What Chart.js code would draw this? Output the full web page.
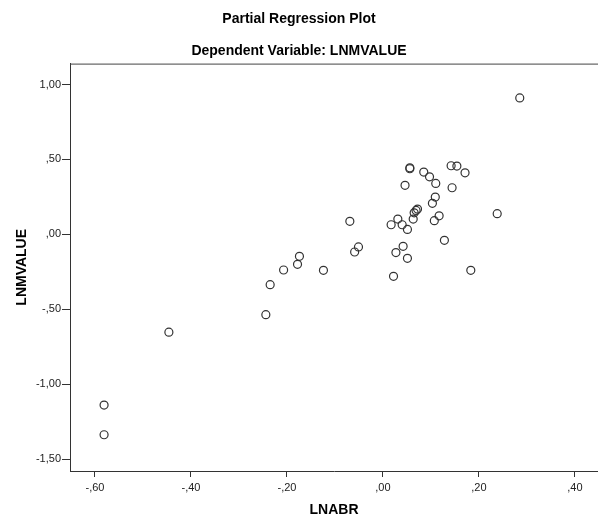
<!DOCTYPE html>
<html>
<head>
<meta charset="utf-8">
<script src="https://cdn.jsdelivr.net/npm/chart.js@4.4.1/dist/chart.umd.min.js"></script>
<style>
  html, body { margin: 0; padding: 0; background: #fff; }
  #wrap { width: 598px; height: 521px; }
</style>
</head>
<body>
<div id="wrap"><canvas id="grafico"></canvas></div>
<script>
// values
const lnabr = [
  0.285, 0.056, 0.056, 0.085, 0.097, 0.110, 0.142, 0.154, 0.171, 0.046,
  0.144, 0.109, 0.103, 0.072, 0.069, 0.065, 0.063, 0.117, 0.107, -0.069,
  0.031, 0.017, 0.040, 0.051, 0.238, 0.128, -0.051, -0.059, 0.042, 0.027,
  0.051, 0.183, 0.022, -0.174, -0.178, -0.207, -0.124, -0.235, -0.244, -0.446,
  -0.581, -0.581
];
const lnmvalue = [
  0.911, 0.444, 0.438, 0.416, 0.384, 0.340, 0.458, 0.456, 0.411, 0.327,
  0.311, 0.249, 0.207, 0.169, 0.160, 0.144, 0.102, 0.124, 0.091, 0.087,
  0.102, 0.064, 0.064, 0.033, 0.138, -0.040, -0.084, -0.118, -0.080, -0.122,
  -0.160, -0.240, -0.280, -0.147, -0.200, -0.238, -0.240, -0.336, -0.536, -0.653,
  -1.140, -1.338
];

const xTickValues = [-0.6, -0.4, -0.2, 0, 0.2, 0.4];
const xTickLabels = ["-,60", "-,40", "-,20", ",00", ",20", ",40"];
const yTickValues = [-1.5, -1, -0.5, 0, 0.5, 1];
const yTickLabels = ["-1,50", "-1,00", "-,50", ",00", ",50", "1,00"];

const puntos = lnabr.map((x, i) => ({ x: x, y: lnmvalue[i] }));

const fuente = "'Liberation Sans', Arial, sans-serif";

// top border of the plot frame
const marcoSuperior = {
  id: "marcoSuperior",
  afterDraw(chart) {
    const { ctx, chartArea } = chart;
    ctx.save();
    ctx.strokeStyle = "#444";
    ctx.lineWidth = 1;
    ctx.beginPath();
    ctx.moveTo(chartArea.left, chartArea.top + 0.5);
    ctx.lineTo(chartArea.right, chartArea.top + 0.5);
    ctx.stroke();
    ctx.restore();
  }
};

new Chart(document.getElementById("grafico"), {
  type: "scatter",
  data: {
    datasets: [{
      data: puntos,
      pointStyle: "circle",
      pointRadius: 4,
      pointHoverRadius: 4,
      borderWidth: 1.2,
      borderColor: "#333",
      backgroundColor: "rgba(0,0,0,0)"
    }]
  },
  options: {
    responsive: true,
    maintainAspectRatio: false,
    animation: false,
    layout: { autoPadding: false, padding: { left: 0, right: 0, top: 0, bottom: 0 } },
    plugins: {
      legend: { display: false },
      tooltip: { enabled: false },
      title: {
        display: true,
        text: "Partial Regression Plot",
        color: "#000",
        font: { family: fuente, size: 14, weight: "bold" },
        padding: { top: 11, bottom: 7 }
      },
      subtitle: {
        display: true,
        text: "Dependent Variable: LNMVALUE",
        color: "#000",
        font: { family: fuente, size: 14, weight: "bold" },
        padding: { top: 8, bottom: 4 }
      }
    },
    scales: {
      x: {
        type: "linear",
        min: -0.652,
        max: 0.448,
        afterFit(scale) { scale.height = 50; },
        afterBuildTicks(scale) { scale.ticks = xTickValues.map(v => ({ value: v })); },
        ticks: {
          color: "#222",
          font: { family: fuente, size: 11 },
          padding: 4,
          maxRotation: 0,
          callback: (v) => xTickLabels[xTickValues.indexOf(v)] ?? ""
        },
        grid: { drawOnChartArea: false, color: "#333", tickLength: 6, tickWidth: 1 },
        border: { display: true, color: "#333", width: 1 },
        title: {
          display: true,
          text: "LNABR",
          color: "#000",
          font: { family: fuente, size: 14, weight: "bold" },
          padding: { top: 0, bottom: 2 }
        }
      },
      y: {
        type: "linear",
        min: -1.58,
        max: 1.14,
        afterFit(scale) { scale.width = 70; },
        afterBuildTicks(scale) { scale.ticks = yTickValues.map(v => ({ value: v })); },
        ticks: {
          color: "#222",
          font: { family: fuente, size: 11 },
          padding: 1,
          callback: (v) => yTickLabels[yTickValues.indexOf(v)] ?? ""
        },
        grid: { drawOnChartArea: false, color: "#333", tickLength: 8, tickWidth: 1 },
        border: { display: true, color: "#333", width: 1 },
        title: {
          display: true,
          text: "LNMVALUE",
          color: "#000",
          font: { family: fuente, size: 14, weight: "bold" },
          padding: { top: 14, bottom: 0 }
        }
      }
    }
  },
  plugins: [marcoSuperior]
});
</script>
</body>
</html>
